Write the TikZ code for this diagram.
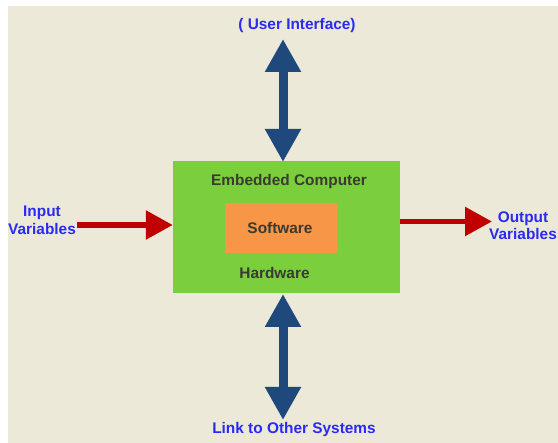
\documentclass[tikz,border=0pt]{standalone}
\usepackage{fontspec}
\setmainfont{Liberation Sans}
\usetikzlibrary{arrows.meta}
\definecolor{bgbeige}{HTML}{ECE9D8}
\definecolor{boxgreen}{HTML}{7CCF3C}
\definecolor{boxorange}{HTML}{F79646}
\definecolor{arrblue}{HTML}{1F497D}
\definecolor{arrred}{HTML}{C00000}
\definecolor{lblblue}{HTML}{2A2AF5}
\definecolor{boxtext}{HTML}{3A3A30}
\tikzset{
  lbl/.style={text=lblblue, font=\fontsize{15.4}{17.5}\selectfont\bfseries, align=center, inner sep=0pt},
  intext/.style={text=boxtext, font=\fontsize{15.4}{17.5}\selectfont\bfseries, inner sep=0pt},
  dbl/.style={draw=arrblue, line width=9pt, {Triangle[length=33pt,width=34pt,fill=arrblue]}-{Triangle[length=33pt,width=34pt,fill=arrblue]}},
  redarr/.style={draw=arrred, line width=5.5pt, -{Triangle[length=27pt,width=28pt,fill=arrred]}},
}
\begin{document}
\begin{tikzpicture}[x=1pt,y=-1pt]
\useasboundingbox (0,0) rectangle (558,443);
\fill[white] (0,0) rectangle (558,443);
\fill[bgbeige] (8,6) rectangle (558,443);
% boxes
\node[fill=boxgreen, minimum width=227pt, minimum height=132pt, inner sep=0pt] (box) at (286.5,227) {};
\node[fill=boxorange, minimum width=112pt, minimum height=50pt, inner sep=0pt] (sw) at (281,228) {};
\node[intext] (emb) at (289,182) {Embedded Computer};
\node[intext] (swt) at (280,227.5) {Software};
\node[intext] (hw) at (274.5,273) {Hardware};
% labels
\node[lbl] (ui) at (297,26) {( User Interface)};
\node[lbl] (link) at (294,430) {Link to Other Systems};
\node[lbl] (inp) at (42,220.5) {Input\\Variables};
\node[lbl] (outp) at (523,225.5) {Output\\Variables};
% arrow end points
\coordinate (uitip) at (283,39);
\coordinate (boxtop) at (283,162);
\coordinate (boxbot) at (283,294);
\coordinate (linktip) at (283,420);
\coordinate (instart) at (77,225);
\coordinate (outend) at (492,221.5);
% connectors
\draw[dbl] (uitip) -- (boxtop);
\draw[dbl] (boxbot) -- (linktip);
\draw[redarr] (instart) -- (box.west |- instart);
\draw[redarr] (box.east |- outend) -- (outend);
\end{tikzpicture}
\end{document}
